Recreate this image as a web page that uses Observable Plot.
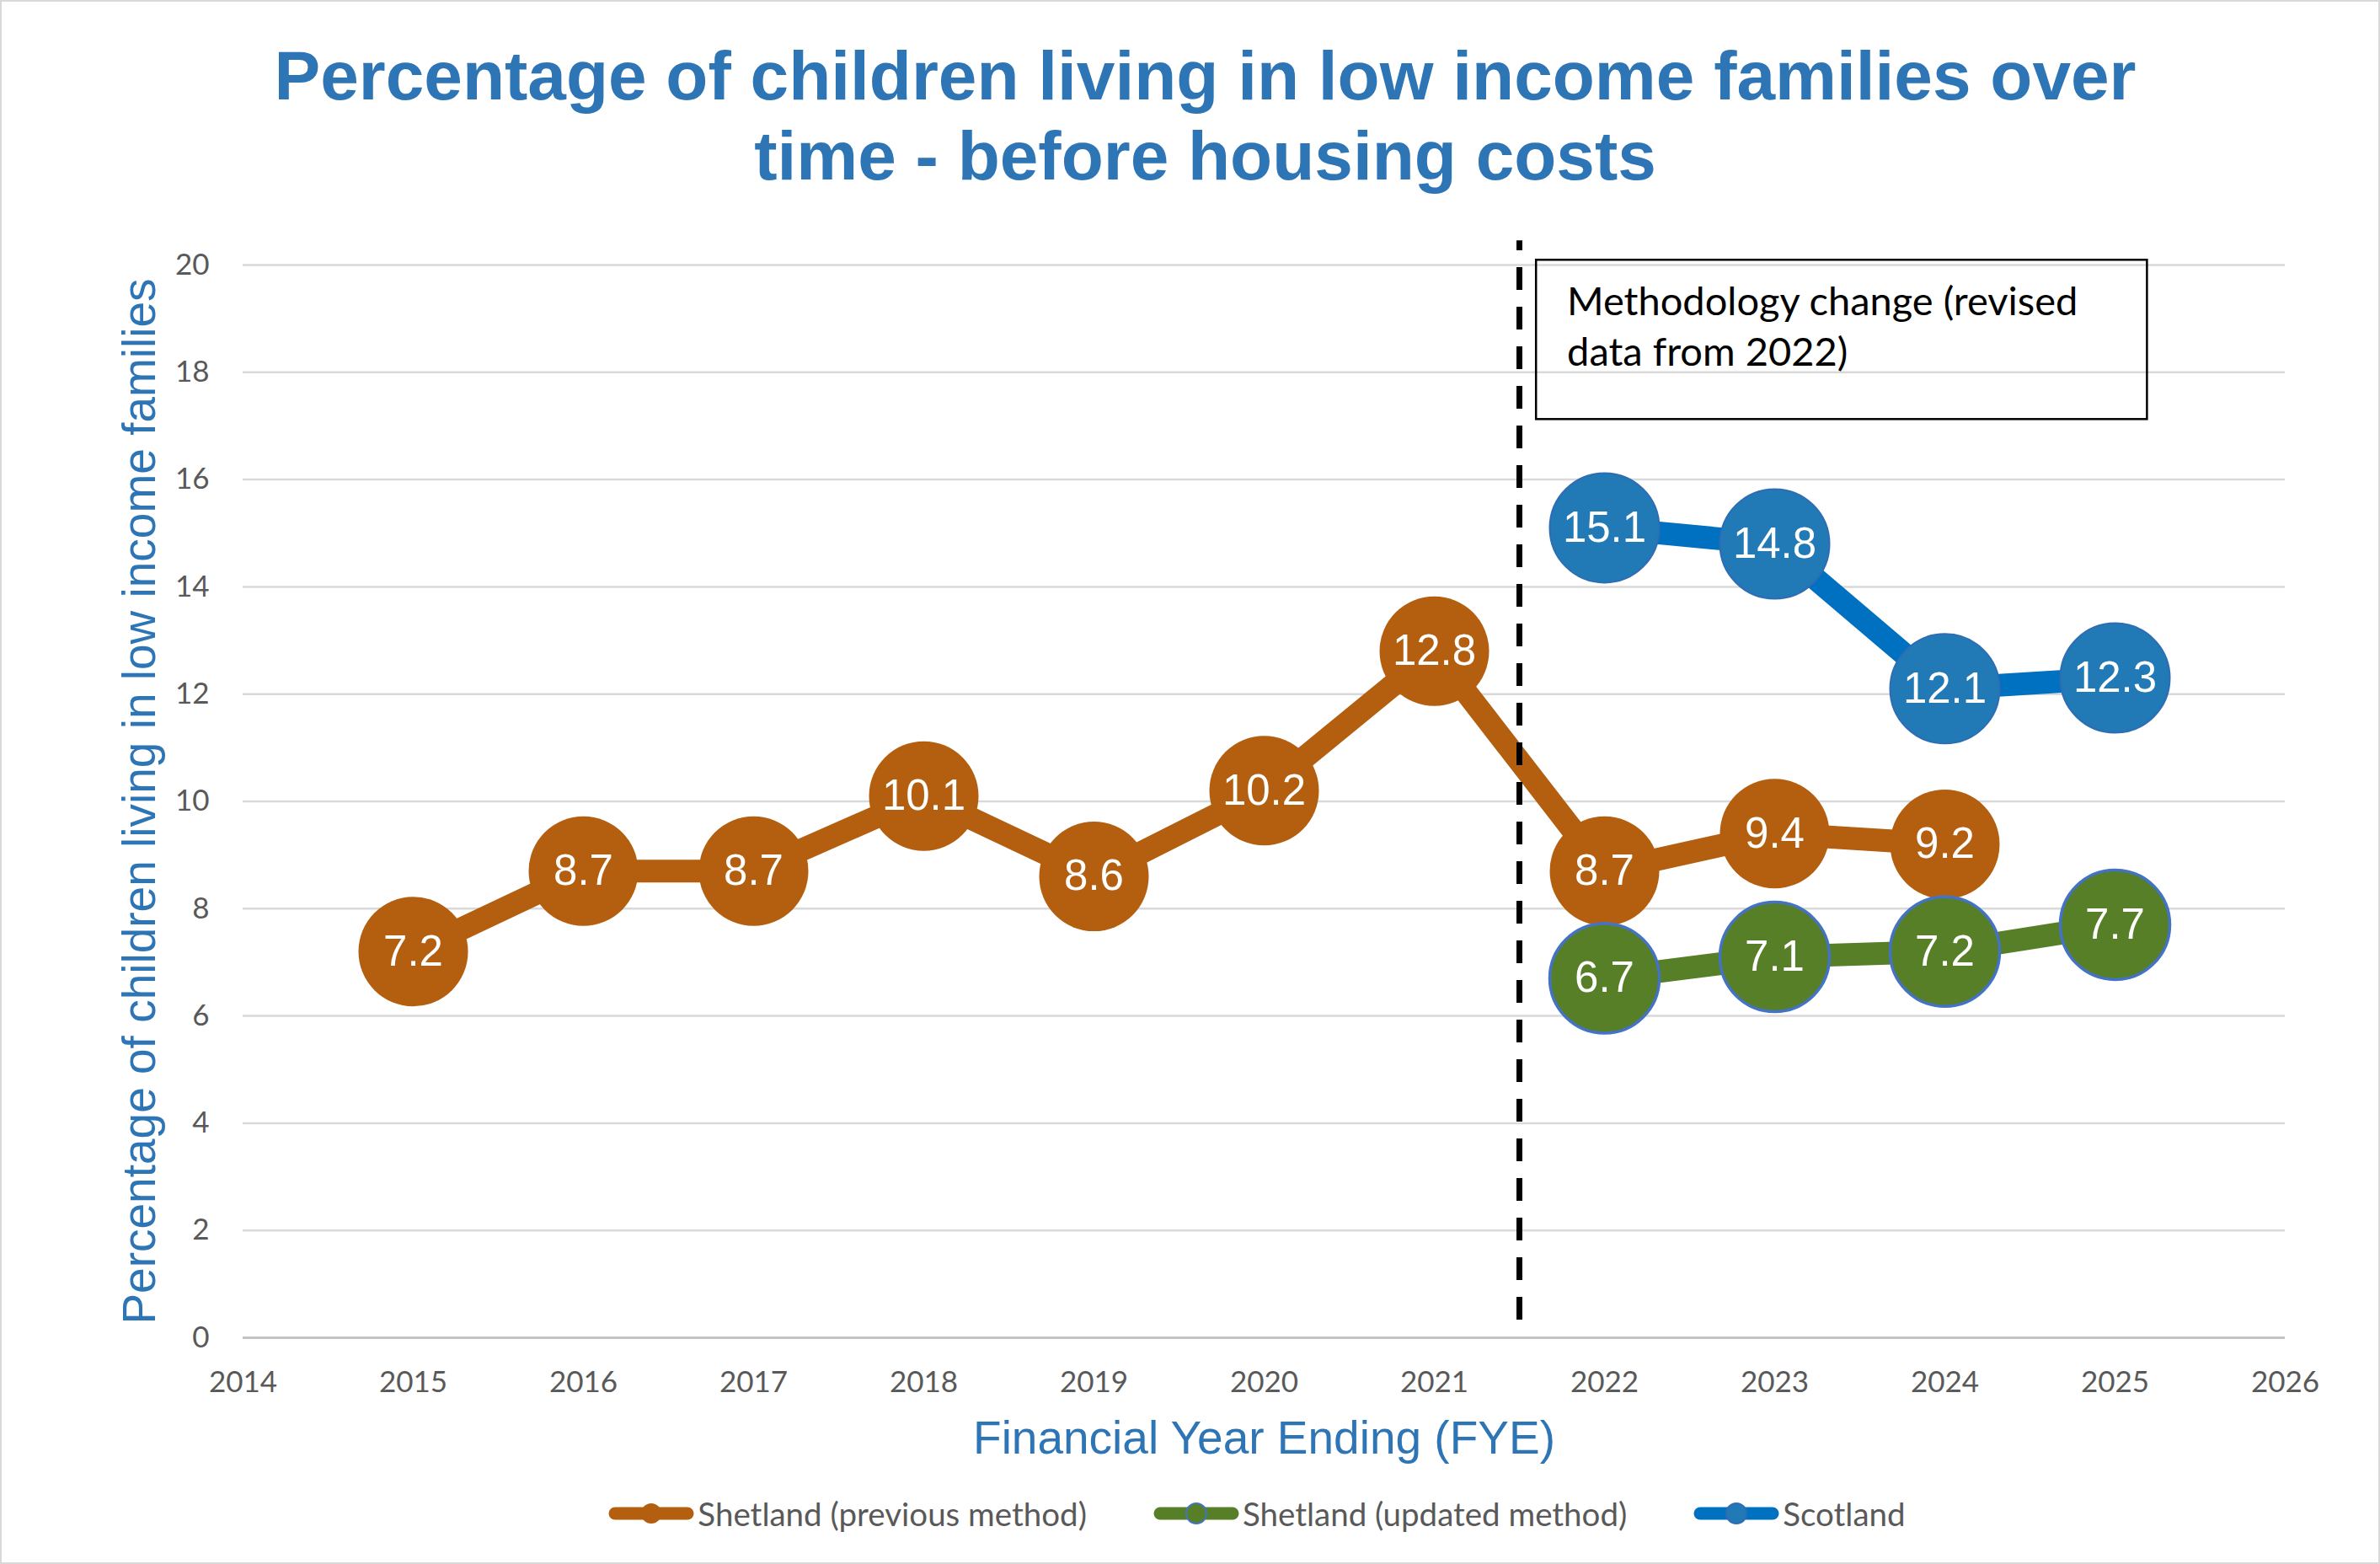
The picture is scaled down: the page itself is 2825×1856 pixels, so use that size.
<!DOCTYPE html>
<html>
<head>
<meta charset="utf-8">
<script src="https://cdn.jsdelivr.net/npm/d3@7"></script>
<script src="https://cdn.jsdelivr.net/npm/@observablehq/plot@0.6"></script>
<style>
  body { margin: 0; background: #fff; }
  #chart { position: relative; width: 2825px; height: 1856px; background: #fff; overflow: hidden; }
  #title {
    position: absolute; left: 18px; top: 42px; width: 2825px; text-align: center;
    font-family: "Liberation Sans", Arial, sans-serif; font-weight: bold;
    font-size: 82px; line-height: 95px; color: #2e75b6;
  }
  #plot { position: absolute; left: 0; top: 260px; }
  #legend {
    position: absolute; left: 272px; width: 2440px; top: 1772px; height: 48px;
    display: flex; justify-content: center; align-items: center; gap: 79px;
    font-family: Lato, Carlito, sans-serif; font-size: 38.5px; color: #595959;
  }
  .item { display: flex; align-items: center; }
  .item svg { margin-right: 4px; }
  #frame { position: absolute; inset: 0; border: 2px solid #d9d9d9; box-sizing: border-box; pointer-events: none; }
</style>
</head>
<body>
<div id="chart">
  <div id="title">Percentage of children living in low income families over<br>time - before housing costs</div>
  <div id="plot"></div>
  <div id="legend"></div>
  <div id="frame"></div>
</div>
<script>
// Percentage of children in low income families (before housing costs)
const prevYears = [2015, 2016, 2017, 2018, 2019, 2020, 2021, 2022, 2023, 2024];
const prevValues = [7.2, 8.7, 8.7, 10.1, 8.6, 10.2, 12.8, 8.7, 9.4, 9.2];
const updatedYears = [2022, 2023, 2024, 2025];
const updatedValues = [6.7, 7.1, 7.2, 7.7];
const scotlandYears = [2022, 2023, 2024, 2025];
const scotlandValues = [15.1, 14.8, 12.1, 12.3];

const seriesNames = ["Shetland (previous method)", "Shetland (updated method)", "Scotland"];
const xTicks = [2014, 2015, 2016, 2017, 2018, 2019, 2020, 2021, 2022, 2023, 2024, 2025, 2026];
const yTicks = [0, 2, 4, 6, 8, 10, 12, 14, 16, 18, 20];

const yLabel = "Percentage of children living in low income families";
const xLabel = "Financial Year Ending (FYE)";
const noteLines = ["Methodology change (revised", "data from 2022)"];
const methodChangeYear = 2021.5;

// series styling
const styles = [
  {line: "#b35f0f", fill: "#b35f0f", edge: "#b35f0f", edgeWidth: 0},
  {line: "#567f28", fill: "#567f28", edge: "#4472c4", edgeWidth: 3.5},
  {line: "#0070c0", fill: "#2179b5", edge: "#2e6db3", edgeWidth: 2}
];

const series = [
  prevYears.map((year, i) => ({year, value: prevValues[i]})),
  updatedYears.map((year, i) => ({year, value: updatedValues[i]})),
  scotlandYears.map((year, i) => ({year, value: scotlandValues[i]}))
];

const seriesMarks = series.flatMap((rows, k) => [
  Plot.line(rows, {x: "year", y: "value", stroke: styles[k].line, strokeWidth: 27, strokeLinejoin: "round"}),
  Plot.dot(rows, {x: "year", y: "value", r: 65, fill: styles[k].fill,
    stroke: styles[k].edge, strokeWidth: styles[k].edgeWidth})
]);

const labelMarks = series.map(rows =>
  Plot.text(rows, {x: "year", y: "value", text: d => d.value.toFixed(1),
    fill: "white", fontSize: 51, fontFamily: "Liberation Sans, Arial, sans-serif"})
);

// methodology note placement (data units)
const noteX = 2021.78;
const noteRows = noteLines.map((text, i) => ({text, y: [19.3, 18.36][i]}));
const noteBox = [{x1: 2021.6, x2: 2025.19, y1: 17.12, y2: 20.09}];

const chart = Plot.plot({
  width: 2825,
  height: 1500,
  marginTop: 54,
  marginBottom: 173,
  marginLeft: 288,
  marginRight: 113,
  style: {fontFamily: "Lato, Carlito, sans-serif", background: "transparent", overflow: "visible"},
  x: {domain: [2014, 2026]},
  y: {domain: [0, 20]},
  marks: [
    Plot.gridY(yTicks, {stroke: "#d9d9d9", strokeOpacity: 1, strokeWidth: 2.5}),
    Plot.ruleY([0], {stroke: "#bfbfbf", strokeWidth: 2.5}),
    Plot.axisY({ticks: yTicks, tickSize: 0, tickPadding: 40, fontSize: 35, fill: "#595959", label: null}),
    Plot.axisX({ticks: xTicks, tickFormat: d => String(d), tickSize: 0, tickPadding: 40, fontSize: 35, fill: "#595959", label: null}),
    Plot.text([yLabel], {frameAnchor: "left", textAnchor: "middle", lineAnchor: "middle", rotate: -90, dx: -122,
      fontSize: 55, fill: "#2e75b6", fontFamily: "Liberation Sans, Arial, sans-serif"}),
    Plot.text([xLabel], {frameAnchor: "bottom", textAnchor: "middle", lineAnchor: "middle", dy: 120,
      fontSize: 55, fill: "#2e75b6", fontFamily: "Liberation Sans, Arial, sans-serif"}),
    ...seriesMarks,
    Plot.ruleX([methodChangeYear], {y1: 0.33, y2: 20.45, stroke: "black", strokeWidth: 7, strokeDasharray: "27,20"}),
    Plot.rect(noteBox, {x1: "x1", x2: "x2", y1: "y1", y2: "y2", fill: "none", stroke: "black", strokeWidth: 2.5}),
    Plot.text(noteRows, {x: noteX, y: "y", text: "text", textAnchor: "start", fontSize: 47, fill: "black"}),
    ...labelMarks
  ]
});
document.getElementById("plot").appendChild(chart);

// legend: line swatch with marker, then series name
const legend = d3.select("#legend");
seriesNames.forEach((name, k) => {
  const item = legend.append("div").attr("class", "item");
  const svg = item.append("svg").attr("width", 102).attr("height", 30);
  svg.append("line").attr("x1", 8).attr("x2", 94).attr("y1", 15).attr("y2", 15)
    .attr("stroke", styles[k].line).attr("stroke-width", 15).attr("stroke-linecap", "round");
  svg.append("circle").attr("cx", 51).attr("cy", 15).attr("r", 12)
    .attr("fill", styles[k].fill)
    .attr("stroke", styles[k].edgeWidth ? styles[k].edge : "none")
    .attr("stroke-width", Math.min(styles[k].edgeWidth, 2));
  item.append("span").text(name);
});
</script>
</body>
</html>
